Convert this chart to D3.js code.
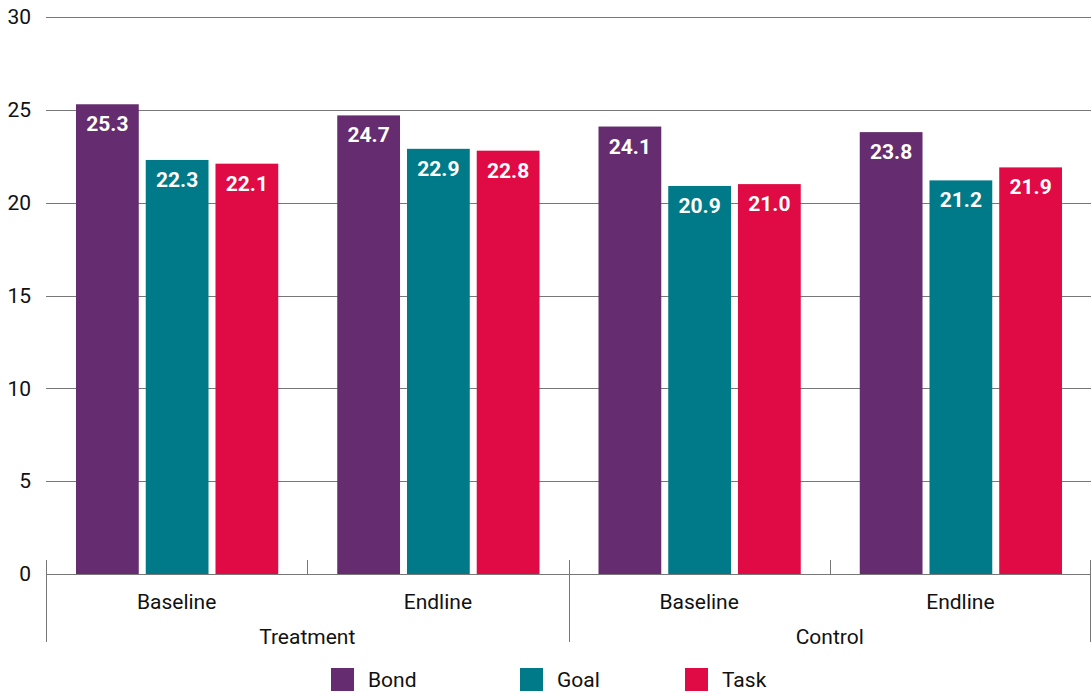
<!DOCTYPE html>
<html>
<head>
<meta charset="utf-8">
<script src="https://cdn.jsdelivr.net/npm/d3@7"></script>
<style>
  body { margin: 0; background: #fff; }
  svg text { font-family: Roboto, "Noto Sans", sans-serif; }
</style>
</head>
<body>
<div id="chart"></div>
<script>
var groups = ["Treatment", "Control"];
var periods = ["Baseline", "Endline"];
var seriesNames = ["Bond", "Goal", "Task"];
var seriesColors = ["#652d6f", "#007a88", "#e00a44"];
var bondValues = [25.3, 24.7, 24.1, 23.8];
var goalValues = [22.3, 22.9, 20.9, 21.2];
var taskValues = [22.1, 22.8, 21.0, 21.9];
var yTicks = [0, 5, 10, 15, 20, 25, 30];

var _width = 1092, _height = 693,
  _margins = {top: 17, left: 46, right: 1, bottom: 119};

var svg = d3.select("#chart").append("svg")
  .attr("width", _width)
  .attr("height", _height);

var innerW = _width - _margins.left - _margins.right,
  innerH = _height - _margins.top - _margins.bottom;

// one slot per group/period pair
var slots = [];
groups.forEach(function (g) {
  periods.forEach(function (p) { slots.push(g + "|" + p); });
});

var x0 = d3.scaleBand().domain(slots).range([0, innerW]).paddingInner(0).paddingOuter(0);
var x1 = d3.scaleBand().domain(seriesNames).range([30, x0.bandwidth() - 29]).paddingInner(0.1);
var y = d3.scaleLinear().domain([0, 30]).range([innerH, 0]);

var g = svg.append("g")
  .attr("transform", "translate(" + _margins.left + "," + _margins.top + ")");

// grid lines
g.append("g").attr("class", "grid")
  .selectAll("line").data(yTicks).enter().append("line")
  .attr("x1", 0).attr("x2", innerW)
  .attr("y1", function (d) { return Math.round(y(d)) + 0.5; })
  .attr("y2", function (d) { return Math.round(y(d)) + 0.5; })
  .attr("stroke", "#777").attr("stroke-width", 1);

// y axis labels
var yAxis = d3.axisLeft(y).tickValues(yTicks).tickSize(0).tickPadding(15);
g.append("g").call(yAxis)
  .call(function (ax) { ax.select(".domain").remove(); })
  .selectAll("text")
  .attr("font-size", 21).attr("fill", "#111");

var table = slots.map(function (s, i) {
  return {slot: s, values: [bondValues[i], goalValues[i], taskValues[i]]};
});

var slotG = g.selectAll("g.slot").data(table).enter().append("g")
  .attr("class", "slot")
  .attr("transform", function (d) { return "translate(" + x0(d.slot) + ",0)"; });

var bars = slotG.selectAll("g.bar").data(function (d) {
  return d.values.map(function (v, i) { return {name: seriesNames[i], value: v, color: seriesColors[i]}; });
}).enter().append("g").attr("class", "bar");

bars.append("rect")
  .attr("x", function (d) { return x1(d.name); })
  .attr("width", x1.bandwidth())
  .attr("y", function (d) { return y(d.value); })
  .attr("height", function (d) { return innerH - y(d.value); })
  .attr("fill", function (d) { return d.color; });

bars.append("text")
  .attr("x", function (d) { return x1(d.name) + x1.bandwidth() / 2; })
  .attr("y", function (d) { return y(d.value) + 27; })
  .attr("text-anchor", "middle")
  .attr("font-size", 21).attr("font-weight", "bold").attr("fill", "#fff")
  .text(function (d) { return d.value.toFixed(1); });

// x axis: baseline, tick marks, labels
var axisG = g.append("g").attr("transform", "translate(0," + innerH + ")");
axisG.append("line")
  .attr("x1", 0).attr("x2", innerW).attr("y1", 0.5).attr("y2", 0.5)
  .attr("stroke", "#777");

var boundaries = d3.range(slots.length + 1).map(function (i) {
  return {x: i * x0.bandwidth(), major: i % periods.length === 0};
});
axisG.selectAll("line.tick").data(boundaries).enter().append("line")
  .attr("class", "tick")
  .attr("x1", function (d) { return Math.min(Math.round(d.x), innerW - 1) + 0.5; })
  .attr("x2", function (d) { return Math.min(Math.round(d.x), innerW - 1) + 0.5; })
  .attr("y1", -14)
  .attr("y2", function (d) { return d.major ? 68 : 0; })
  .attr("stroke", "#777");

axisG.selectAll("text.period").data(slots).enter().append("text")
  .attr("class", "period")
  .attr("x", function (d) { return x0(d) + x0.bandwidth() / 2; })
  .attr("y", 35)
  .attr("text-anchor", "middle").attr("font-size", 21).attr("fill", "#111")
  .text(function (d) { return d.split("|")[1]; });

axisG.selectAll("text.group").data(groups).enter().append("text")
  .attr("class", "group")
  .attr("x", function (d, i) { return (i + 0.5) * x0.bandwidth() * periods.length; })
  .attr("y", 70)
  .attr("text-anchor", "middle").attr("font-size", 21).attr("fill", "#111")
  .text(function (d) { return d; });

// legend
var legendX = [331, 520, 685];
var legend = svg.append("g").selectAll("g").data(seriesNames).enter().append("g")
  .attr("transform", function (d, i) { return "translate(" + legendX[i] + ",668)"; });
legend.append("rect").attr("width", 23).attr("height", 23)
  .attr("fill", function (d, i) { return seriesColors[i]; });
legend.append("text").attr("x", 37).attr("y", 19)
  .attr("font-size", 21).attr("fill", "#111")
  .text(function (d) { return d; });
</script>
</body>
</html>
